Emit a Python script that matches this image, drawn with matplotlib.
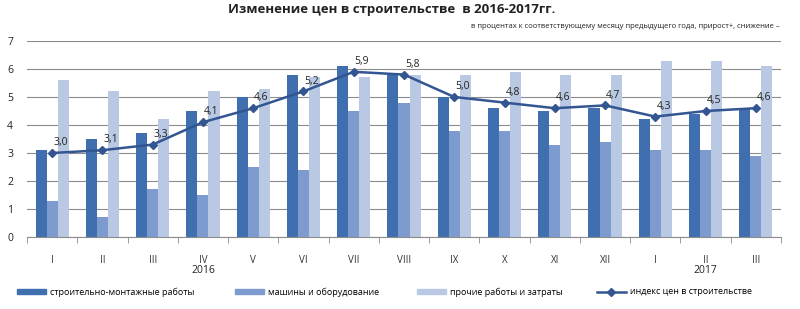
import matplotlib
matplotlib.use("Agg")
import matplotlib.pyplot as plt
import numpy as np
from matplotlib.lines import Line2D
from matplotlib.patches import Patch

plt.rcParams['font.family'] = ['Open Sans', 'DejaVu Sans']

months = ["I", "II", "III", "IV", "V", "VI", "VII", "VIII", "IX", "X", "XI", "XII", "I", "II", "III"]
years = {"2016": 3, "2017": 13}
smr = [3.1, 3.5, 3.7, 4.5, 5.0, 5.8, 6.1, 5.8, 5.0, 4.6, 4.5, 4.6, 4.2, 4.4, 4.6]
machines = [1.3, 0.7, 1.7, 1.5, 2.5, 2.4, 4.5, 4.8, 3.8, 3.8, 3.3, 3.4, 3.1, 3.1, 2.9]
other = [5.6, 5.2, 4.2, 5.2, 5.3, 5.7, 5.7, 5.8, 5.8, 5.9, 5.8, 5.8, 6.3, 6.3, 6.1]
index = [3.0, 3.1, 3.3, 4.1, 4.6, 5.2, 5.9, 5.8, 5.0, 4.8, 4.6, 4.7, 4.3, 4.5, 4.6]

series_names = ["строительно-монтажные работы", "машины и оборудование",
                "прочие работы и затраты", "индекс цен в строительстве"]
c_dark = "#3f6fae"
c_mid = "#7d9bcf"
c_light = "#b9c8e3"
c_line = "#335592"

fig = plt.figure(figsize=(8, 3.09), dpi=100)
ax = fig.add_axes([27/800, 1 - 237/309, (781-27)/800, (237-41)/309])

x = np.arange(len(months))
w = 0.22
ax.bar(x - w, smr, w, color=c_dark, zorder=2)
ax.bar(x, machines, w, color=c_mid, zorder=2)
ax.bar(x + w, other, w, color=c_light, zorder=2)
ax.plot(x, index, color=c_line, lw=1.8, marker="D", ms=4, zorder=3)
for xi, v in zip(x, index):
    ax.text(xi + 0.02, v + 0.17, f"{v:.1f}".replace(".", ","), fontsize=7.5,
            color="#222222", ha="left", va="bottom", zorder=4)

ax.set_xlim(-0.5, len(months) - 0.5)
ax.set_ylim(0, 7)
ax.set_yticks(range(0, 8))
ax.yaxis.grid(True, color="#8c8c8c", lw=0.8, zorder=0)
ax.set_axisbelow(True)
for s in ["top", "right", "left"]:
    ax.spines[s].set_visible(False)
ax.spines["bottom"].set_color("#8c8c8c")
ax.tick_params(axis="y", length=0, labelsize=7.5, pad=10, colors="#222222")
ax.set_xticks(x)
ax.set_xticklabels(months, fontsize=7, color="#333333")
ax.tick_params(axis="x", length=0, pad=13)
ax.set_xticks(np.arange(-0.5, len(months), 1), minor=True)
ax.tick_params(axis="x", which="minor", length=4, color="#8c8c8c", direction="out")
for label, pos in years.items():
    ax.text(pos, -0.145, label, transform=ax.get_xaxis_transform(), ha="center",
            va="top", fontsize=7.5, color="#222222")

fig.text(0.49, 1 - 10/309, "Изменение цен в строительстве  в 2016-2017гг.", ha="center",
         va="center", fontsize=9.5, fontweight="bold", color="#222222")
fig.text(780/800, 1 - 27/309,
         "в процентах к соответствующему месяцу предыдущего года, прирост+, снижение –",
         ha="right", va="center", fontsize=5.5, color="#222222")

handles = [Patch(color=c_dark), Patch(color=c_mid), Patch(color=c_light),
           Line2D([0], [0], color=c_line, lw=1.8, marker="D", ms=4)]
xs = [20, 238, 420, 600]
for h, name, xp in zip(handles, series_names, xs):
    fig.legend([h], [name], loc="center left", bbox_to_anchor=(xp/800 - 0.01, 1 - 292/309),
               frameon=False, fontsize=6.5, handlelength=3.3, handleheight=0.5,
               handletextpad=0.4, borderpad=0)

fig.savefig("out.png", dpi=100)
